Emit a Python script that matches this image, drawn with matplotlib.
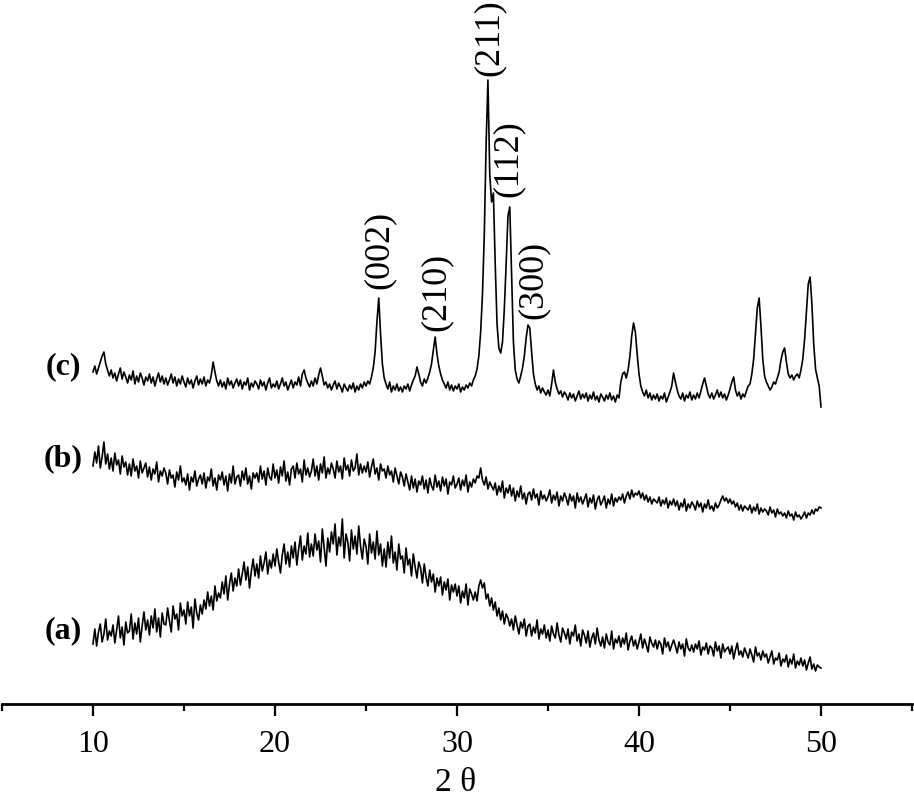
import numpy as np
import matplotlib
matplotlib.use("Agg")
import matplotlib.pyplot as plt

plt.rcParams['font.family'] = ['Liberation Serif', 'DejaVu Serif']

# 2-theta grid (degrees), 0.1 deg step from 10 to 50
two_theta = np.round(np.linspace(10, 50, 401), 1)

# intensities (arbitrary units, stacked offsets included)
curve_a = [
    60, 75, 58, 72, 80, 62, 70, 85, 64, 73,
    68, 79, 61, 74, 88, 66, 77, 59, 82, 71,
    73, 90, 65, 81, 70, 86, 62, 78, 92, 74,
    84, 69, 88, 76, 95, 72, 86, 67, 91, 80,
    79, 96, 83, 72, 98, 85, 90, 74, 101, 88,
    94, 80, 102, 88, 97, 76, 105, 91, 84, 99,
    90, 104, 95, 112, 98, 108, 94, 118, 103, 111,
    106, 122, 110, 128, 104, 120, 131, 113, 126, 118,
    135, 119, 130, 142, 124, 137, 116, 133, 145, 128,
    140, 126, 148, 133, 141, 152, 130, 144, 136, 150,
    138, 155, 142, 131, 149, 160, 140, 152, 137, 158,
    146, 162, 139, 155, 168, 144, 158, 150, 171, 147,
    160, 148, 170, 154, 163, 142, 175, 157, 138, 166,
    152, 172, 160, 180, 149, 167, 158, 185, 146, 170,
    162, 143, 174, 155, 168, 150, 178, 158, 145, 165,
    158, 140, 170, 151, 162, 145, 173, 149, 160, 138,
    155, 137, 162, 146, 168, 141, 152, 134, 160, 145,
    148, 131, 156, 139, 145, 128, 150, 137, 126, 142,
    136, 121, 140, 127, 118, 134, 122, 130, 112, 126,
    118, 127, 109, 122, 114, 125, 104, 119, 112, 120,
    108, 118, 101, 113, 106, 120, 99, 115, 110, 104,
    112, 103, 118, 124, 116, 121, 105, 110, 98, 106,
    94, 102, 88, 96, 84, 93, 80, 90, 86, 78,
    85, 74, 88, 79, 70, 82, 76, 85, 68, 78,
    80, 68, 77, 71, 84, 65, 75, 70, 79, 66,
    74, 63, 78, 70, 66, 81, 69, 62, 76, 71,
    65, 75, 60, 72, 68, 79, 63, 70, 58, 74,
    69, 61, 73, 57, 66, 71, 60, 76, 64, 58,
    67, 56, 70, 62, 59, 73, 55, 65, 61, 68,
    57, 66, 60, 71, 54, 63, 68, 58, 64, 55,
    62, 70, 56, 65, 59, 52, 67, 61, 57, 64,
    55, 63, 60, 50, 66, 57, 62, 53, 59, 64,
    58, 51, 62, 55, 60, 48, 65, 56, 53, 59,
    52, 60, 55, 63, 49, 57, 54, 61, 50, 58,
    56, 48, 62, 53, 58, 46, 60, 52, 55, 57,
    50, 58, 45, 54, 61, 49, 53, 47, 56, 51,
    46, 55, 49, 42, 57, 48, 51, 44, 53, 47,
    50, 41, 47, 53, 40, 46, 44, 51, 38, 45,
    42, 49, 37, 45, 40, 50, 36, 43, 39, 46,
    38, 44, 34, 41, 47, 35, 40, 33, 39, 37,
    36]

curve_b = [
    238, 252, 241, 258, 236, 247, 262, 240, 250, 235,
    246, 233, 251, 239, 244, 230, 248, 237, 242, 229,
    240, 228, 245, 233, 238, 226, 243, 231, 236, 241,
    227, 237, 224, 235, 230, 242, 222, 233, 228, 236,
    231, 220, 234, 226, 229, 217, 232, 224, 238, 222,
    226, 219, 230, 214, 227, 222, 233, 218, 225, 229,
    220, 231, 216, 227, 223, 235, 218, 226, 214, 229,
    224, 232, 219, 228, 213, 230, 221, 238, 220, 227,
    229, 218, 233, 224, 236, 220, 228, 215, 231, 226,
    231, 222, 238, 225, 233, 219, 236, 227, 224, 240,
    226, 234, 221, 237, 228, 243, 223, 232, 219, 235,
    238, 226, 241, 230, 235, 222, 244, 229, 236, 227,
    233, 245, 228, 238, 224, 240, 231, 247, 226, 236,
    230, 241, 235, 226, 243, 232, 238, 225, 246, 234,
    239, 228, 244, 233, 236, 250, 229, 240, 231, 238,
    232, 242, 227, 237, 245, 230, 236, 224, 240, 233,
    235, 226, 238, 229, 233, 222, 236, 228, 220, 232,
    227, 218, 230, 222, 214, 228, 216, 225, 212, 223,
    219, 228, 215, 224, 211, 226, 218, 214, 229, 217,
    223, 213, 227, 218, 225, 210, 222, 219, 228, 216,
    220, 226, 214, 224, 218, 229, 212, 222, 217, 225,
    221, 228, 226, 236, 224, 219, 227, 215, 222, 218,
    214, 221, 209, 218, 212, 223, 206, 216, 211, 219,
    208, 216, 203, 213, 207, 218, 205, 211, 200, 210,
    212, 204, 215, 206, 210, 199, 213, 205, 209, 203,
    207, 214, 201, 209, 204, 212, 198, 208, 203, 211,
    206, 199, 210, 203, 208, 196, 211, 202, 207, 200,
    205, 210, 197, 206, 201, 209, 195, 204, 208, 199,
    203, 208, 196, 205, 200, 210, 198, 206, 202, 207,
    204, 210, 201, 208, 212, 205, 214, 207, 211, 209,
    213, 206, 211, 204, 209, 202, 207, 200, 205, 203,
    201, 207, 198, 204, 200, 206, 196, 203, 199, 205,
    198, 203, 194, 201, 197, 205, 193, 200, 196, 202,
    199, 194, 203, 197, 201, 192, 200, 196, 204, 195,
    198, 193, 201, 196, 199, 204, 208, 203, 206, 201,
    205, 200, 203, 197, 201, 194, 199, 193, 198, 196,
    194, 199, 191, 197, 193, 200, 190, 196, 192, 195,
    193, 189, 197, 191, 194, 187, 195, 190, 192, 188,
    191, 186, 193, 188, 190, 184, 192, 187, 189, 185,
    188, 192, 186, 191, 189, 194, 190, 195, 193, 197,
    196]

curve_c = [
    332, 338, 330, 336, 342, 348, 352, 340, 334, 328,
    334, 326, 331, 323, 330, 336, 325, 332, 327, 321,
    329, 324, 333, 320, 328, 322, 331, 326, 319, 327,
    323, 330, 321, 327, 318, 325, 331, 322, 328, 320,
    326, 319, 324, 330, 321, 327, 318, 325, 320, 328,
    322, 317, 326, 320, 324, 316, 323, 328, 319, 325,
    320, 327, 318, 324, 321, 329, 342, 332, 323, 318,
    324, 317, 322, 315, 326, 319, 323, 316, 321, 325,
    318, 324, 315, 322, 319, 326, 314, 321, 317, 323,
    320, 315, 324, 318, 322, 314, 321, 326, 316, 320,
    317, 323, 315, 320, 326, 318, 322, 314, 319, 324,
    316, 322, 319, 327, 318, 330, 334, 326, 321, 317,
    323, 318, 326, 320, 329, 336, 328, 319, 322, 316,
    320, 314, 319, 323, 315, 321, 317, 312, 320, 316,
    313, 319, 315, 321, 312, 318, 314, 320, 316, 322,
    318, 323, 320, 327, 336, 352, 382, 406, 370, 340,
    326, 320, 315, 322, 312, 318, 314, 320, 313, 317,
    312, 318, 315, 320, 313, 319, 324, 328, 337, 330,
    322, 318, 325, 321, 326, 332, 340, 354, 367, 350,
    338, 330, 324, 320, 316, 322, 314, 319, 313, 318,
    315, 320, 312, 317, 314, 319, 316, 321, 318, 324,
    328, 335, 348, 372, 410, 470, 560, 624, 530, 502,
    511, 440, 380, 356, 351, 362, 395, 440, 488, 497,
    430, 362, 334, 325, 321, 328, 336, 348, 366, 379,
    376, 352, 330, 320, 314, 318, 311, 316, 312, 309,
    314, 308, 320, 334, 322, 315, 310, 313, 307, 312,
    309, 304, 311, 306, 310, 303, 308, 313, 305, 310,
    306, 311, 303, 309, 305, 312, 304, 308, 302, 310,
    307, 303, 309, 305, 311, 304, 308, 302, 309, 306,
    322, 330, 332, 326, 334, 348, 368, 381, 372, 350,
    330, 318, 312, 308, 314, 306, 311, 304, 309, 305,
    310, 303, 308, 305, 311, 302, 307, 312, 318, 331,
    322, 314, 308, 305, 311, 303, 309, 306, 312, 304,
    309, 305, 311, 306, 313, 320, 326, 318, 310, 306,
    311, 305, 309, 314, 307, 312, 306, 310, 304, 309,
    315, 322, 327, 314, 308, 312, 305, 310, 307, 313,
    318, 320, 330, 345, 370, 396, 406, 378, 345, 328,
    322, 318, 314, 317, 322, 320, 326, 332, 344, 352,
    356, 342, 330, 326, 329, 324, 328, 330, 326, 334,
    345, 365, 392, 420, 427, 400, 360, 335, 326, 318,
    297]

series_labels = ['(a)', '(b)', '(c)']
peak_labels = ['(002)', '(210)', '(211)', '(112)', '(300)']
peak_centers = [25.7, 28.8, 31.7, 32.9, 34.0]

x_ticks = [10, 20, 30, 40, 50]

fig = plt.figure(figsize=(9.14, 8.0), dpi=100)
ax = fig.add_axes([2 / 914, 96 / 800, 910 / 914, 704 / 800])

for ys in (curve_a, curve_b, curve_c):
    ax.plot(two_theta, ys, color='black', lw=1.2)

ax.set_xlim(5, 55)
ax.set_ylim(0, 704)

for s in ('left', 'right', 'top'):
    ax.spines[s].set_visible(False)
ax.spines['bottom'].set_linewidth(2.0)
ax.set_yticks([])
ax.set_xticks(x_ticks)
ax.set_xticklabels([str(t) for t in x_ticks])
ax.set_xticks([5, 15, 25, 35, 45, 55], minor=True)
ax.tick_params(axis='x', which='major', direction='out', length=8.5, width=1.6,
               labelsize=23, pad=10)
ax.tick_params(axis='x', which='minor', direction='out', length=5, width=1.6)

fig.text(0.498, 9 / 800, '2 θ', ha='center', va='baseline', fontsize=24)

# series labels
label_x = 8.35
for lab, ys, dy in zip(series_labels, (curve_a, curve_b, curve_c), (13, 7, 5)):
    ax.text(label_x, ys[0] + dy, lab, ha='center', va='center',
            fontsize=23, fontweight='bold')

# peak labels: anchored above each peak maximum
c_arr = np.array(curve_c)
label_dx = [0.0, 0.05, 0.05, -0.1, 0.2]
label_gap = [9, 6, 4, 10, 6]
for lab, pc, dx, gap in zip(peak_labels, peak_centers, label_dx, label_gap):
    near = np.abs(two_theta - pc) <= 0.15
    ytop = c_arr[near].max()
    ax.text(pc + dx, ytop + gap, lab, rotation=90, ha='center', va='bottom',
            fontsize=26, clip_on=False)

fig.savefig('out.png', dpi=100)
